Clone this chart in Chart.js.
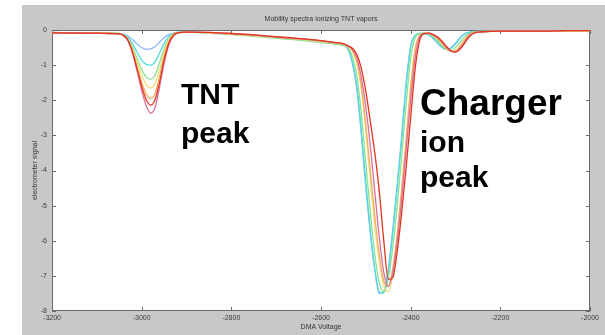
<!DOCTYPE html>
<html>
<head>
<meta charset="utf-8">
<script src="https://cdn.jsdelivr.net/npm/chart.js@4.4.1/dist/chart.umd.min.js"></script>
<style>
  html, body { margin: 0; padding: 0; background: #ffffff; }
  #fig { position: absolute; left: 22px; top: 5px; width: 583px; height: 330px; background: #c8c8c8; }
  #c { position: absolute; left: 0; top: 0; }
</style>
</head>
<body>
<div id="fig"></div>
<canvas id="c" width="605" height="335"></canvas>
<script>
// DMA voltage sample points (V)
const voltage = [
  -3200, -3150, -3100, -3070,
  -3050, -3040, -3030, -3020, -3010, -3000, -2990, -2980, -2970, -2960, -2950, -2940, -2930, -2920, -2900,
  -2850, -2800, -2750, -2700, -2650, -2600, -2570, -2550,
  -2540, -2530, -2520, -2510, -2500, -2490, -2480, -2470, -2460, -2450, -2440, -2430, -2420, -2410, -2400, -2390, -2380, -2370, -2360,
  -2350, -2340, -2330, -2320, -2310, -2300, -2290, -2280, -2270, -2260, -2240, -2200, -2150, -2100, -2050, -2000
];

// Electrometer signal for each run
const runBlue = [
  -0.07, -0.08, -0.08, -0.09,
  -0.10, -0.12, -0.18, -0.28, -0.40, -0.50, -0.55, -0.54, -0.47, -0.35, -0.22, -0.13, -0.09, -0.07, -0.06,
  -0.08, -0.11, -0.16, -0.21, -0.26, -0.33, -0.38, -0.43,
  -0.55, -0.95, -1.70, -3.00, -4.50, -5.80, -6.85, -7.50, -7.45, -6.80, -5.70, -4.40, -3.00, -1.50, -0.45, -0.15, -0.10, -0.10, -0.12,
  -0.24, -0.37, -0.50, -0.56, -0.50, -0.37, -0.22, -0.11, -0.07, -0.05, -0.04, -0.03, -0.03, -0.03, -0.02, -0.02
];
const runCyan = [
  -0.07, -0.08, -0.09, -0.09,
  -0.10, -0.13, -0.22, -0.40, -0.64, -0.86, -0.98, -1.00, -0.90, -0.65, -0.38, -0.19, -0.10, -0.07, -0.06,
  -0.08, -0.12, -0.16, -0.22, -0.27, -0.34, -0.39, -0.44,
  -0.52, -0.90, -1.60, -2.85, -4.35, -5.70, -6.80, -7.45, -7.48, -6.90, -5.80, -4.50, -3.10, -1.60, -0.50, -0.16, -0.10, -0.10, -0.15,
  -0.22, -0.35, -0.48, -0.55, -0.52, -0.40, -0.24, -0.12, -0.07, -0.05, -0.04, -0.03, -0.03, -0.03, -0.02, -0.02
];
const runGreen = [
  -0.08, -0.08, -0.09, -0.10,
  -0.10, -0.14, -0.26, -0.50, -0.82, -1.12, -1.34, -1.40, -1.28, -0.93, -0.53, -0.25, -0.11, -0.07, -0.06,
  -0.09, -0.13, -0.18, -0.24, -0.29, -0.36, -0.40, -0.44,
  -0.50, -0.75, -1.30, -2.40, -3.80, -5.20, -6.40, -7.20, -7.45, -7.10, -6.20, -5.00, -3.60, -2.10, -0.80, -0.22, -0.10, -0.09, -0.11,
  -0.18, -0.30, -0.44, -0.56, -0.58, -0.50, -0.35, -0.20, -0.10, -0.06, -0.04, -0.03, -0.03, -0.03, -0.03, -0.02
];
const runYellow = [
  -0.07, -0.08, -0.08, -0.09,
  -0.10, -0.15, -0.28, -0.56, -0.92, -1.28, -1.55, -1.65, -1.52, -1.12, -0.64, -0.30, -0.13, -0.08, -0.06,
  -0.08, -0.12, -0.16, -0.21, -0.26, -0.33, -0.37, -0.41,
  -0.47, -0.60, -0.95, -1.70, -2.90, -4.30, -5.60, -6.60, -7.30, -7.45, -7.00, -6.00, -4.70, -3.20, -1.70, -0.60, -0.16, -0.10, -0.10,
  -0.14, -0.24, -0.37, -0.52, -0.60, -0.60, -0.48, -0.30, -0.15, -0.08, -0.05, -0.04, -0.04, -0.03, -0.03, -0.03
];
const runOrange = [
  -0.08, -0.08, -0.09, -0.09,
  -0.11, -0.15, -0.30, -0.62, -1.05, -1.48, -1.82, -1.95, -1.80, -1.32, -0.76, -0.35, -0.14, -0.08, -0.06,
  -0.08, -0.11, -0.15, -0.20, -0.25, -0.31, -0.36, -0.40,
  -0.46, -0.58, -0.90, -1.60, -2.70, -4.00, -5.30, -6.40, -7.15, -7.30, -6.80, -5.80, -4.50, -3.10, -1.60, -0.55, -0.15, -0.09, -0.10,
  -0.15, -0.25, -0.39, -0.53, -0.61, -0.59, -0.46, -0.28, -0.14, -0.07, -0.05, -0.03, -0.03, -0.03, -0.02, -0.02
];
const runRed = [
  -0.08, -0.09, -0.09, -0.10,
  -0.11, -0.16, -0.31, -0.65, -1.12, -1.60, -1.98, -2.14, -1.98, -1.48, -0.86, -0.40, -0.16, -0.08, -0.06,
  -0.07, -0.10, -0.14, -0.19, -0.24, -0.30, -0.35, -0.39,
  -0.45, -0.52, -0.70, -1.10, -1.75, -2.60, -3.50, -4.60, -6.00, -7.10, -7.05, -6.30, -5.20, -3.90, -2.50, -1.10, -0.30, -0.10, -0.09,
  -0.13, -0.20, -0.32, -0.47, -0.59, -0.63, -0.55, -0.38, -0.20, -0.10, -0.05, -0.03, -0.03, -0.03, -0.02, -0.02
];
const runMagenta = [
  -0.08, -0.08, -0.09, -0.10,
  -0.11, -0.16, -0.32, -0.68, -1.18, -1.72, -2.15, -2.37, -2.20, -1.62, -0.95, -0.45, -0.18, -0.09, -0.06,
  -0.07, -0.10, -0.14, -0.20, -0.25, -0.31, -0.36, -0.40,
  -0.45, -0.55, -0.80, -1.35, -2.20, -3.30, -4.60, -5.90, -6.90, -7.30, -6.90, -6.00, -4.80, -3.40, -2.00, -0.80, -0.20, -0.10, -0.09,
  -0.13, -0.21, -0.34, -0.49, -0.60, -0.62, -0.52, -0.35, -0.18, -0.09, -0.05, -0.03, -0.03, -0.03, -0.02, -0.02
];

const runs = [runRed, runMagenta, runOrange, runYellow, runGreen, runCyan, runBlue];
const runColors = ['#e2361f', '#d9709e', '#f3ad63', '#efe07c', '#8fe08f', '#4fdcdc', '#8db6ff'];

const xTicks = [-3200, -3000, -2800, -2600, -2400, -2200, -2000];
const yTicks = [0, -1, -2, -3, -4, -5, -6, -7, -8];

const axisFont = { family: 'Liberation Sans, Arial, sans-serif', size: 7 };

// white axes area, box outline and inward tick marks
const axesBox = {
  id: 'axesBox',
  beforeDraw(chart) {
    const { ctx, chartArea: a } = chart;
    ctx.save();
    ctx.fillStyle = '#ffffff';
    ctx.fillRect(a.left, a.top, a.right - a.left, a.bottom - a.top);
    ctx.restore();
  },
  beforeDatasetsDraw(chart) {
    const { ctx, chartArea: a, scales } = chart;
    ctx.save();
    ctx.strokeStyle = '#6a6a6a';
    ctx.lineWidth = 1;
    ctx.strokeRect(a.left + 0.5, a.top + 0.5, a.right - a.left - 1, a.bottom - a.top - 1);
    const len = 4;
    ctx.beginPath();
    xTicks.forEach(v => {
      const x = Math.round(scales.x.getPixelForValue(v)) + 0.5;
      ctx.moveTo(x, a.bottom); ctx.lineTo(x, a.bottom - len);
      ctx.moveTo(x, a.top); ctx.lineTo(x, a.top + len);
    });
    yTicks.forEach(v => {
      const y = Math.round(scales.y.getPixelForValue(v)) + 0.5;
      ctx.moveTo(a.left, y); ctx.lineTo(a.left + len, y);
      ctx.moveTo(a.right, y); ctx.lineTo(a.right - len, y);
    });
    ctx.stroke();
    ctx.restore();
  },
  afterDraw(chart) {
    const { ctx } = chart;
    ctx.save();
    ctx.fillStyle = '#000000';
    ctx.textBaseline = 'alphabetic';
    ctx.font = 'bold 30px "Liberation Sans", Arial, sans-serif';
    ctx.fillText('TNT', 181, 104);
    ctx.fillText('peak', 181, 143);
    ctx.font = 'bold 37px "Liberation Sans", Arial, sans-serif';
    ctx.fillText('Charger', 420, 115);
    ctx.font = 'bold 30px "Liberation Sans", Arial, sans-serif';
    ctx.fillText('ion', 420, 152);
    ctx.fillText('peak', 420, 187);
    ctx.restore();
  }
};

new Chart(document.getElementById('c'), {
  type: 'line',
  data: {
    datasets: runs.map((vals, i) => ({
      data: vals.map((y, k) => ({ x: voltage[k], y })),
      borderColor: runColors[i],
      borderWidth: 1.3,
      pointRadius: 0,
      cubicInterpolationMode: 'monotone',
      fill: false,
      order: i
    }))
  },
  options: {
    responsive: false,
    animation: false,
    devicePixelRatio: 1,
    layout: { padding: { left: 0, right: 15, top: 0, bottom: 0 } },
    plugins: {
      legend: { display: false },
      tooltip: { enabled: false },
      title: {
        display: true,
        text: 'Mobility spectra ionizing TNT vapors',
        fullSize: false,
        color: '#333333',
        font: { family: 'Liberation Sans, Arial, sans-serif', size: 7, weight: 'normal' },
        padding: { top: 15, bottom: 6.6 }
      }
    },
    scales: {
      x: {
        type: 'linear',
        min: -3200,
        max: -2000,
        afterFit(s) { s.height = 24; },
        afterBuildTicks(s) { s.ticks = xTicks.map(v => ({ value: v })); },
        ticks: { callback: v => String(v), color: '#3a3a3a', font: axisFont, padding: 3, maxRotation: 0 },
        grid: { display: true, drawOnChartArea: false, drawTicks: false },
        border: { display: false },
        title: { display: true, text: 'DMA Voltage', color: '#333333', font: axisFont, padding: { top: 0, bottom: 4 } }
      },
      y: {
        type: 'linear',
        min: -8,
        max: 0,
        afterFit(s) { s.width = 52; },
        afterBuildTicks(s) { s.ticks = yTicks.map(v => ({ value: v })); },
        ticks: { callback: v => String(v), color: '#3a3a3a', font: axisFont, padding: 5 },
        grid: { display: true, drawOnChartArea: false, drawTicks: false },
        border: { display: false },
        title: { display: true, text: 'electrometer signal', color: '#333333', font: axisFont, padding: { top: 31, bottom: 0 } }
      }
    }
  },
  plugins: [axesBox]
});
</script>
</body>
</html>
